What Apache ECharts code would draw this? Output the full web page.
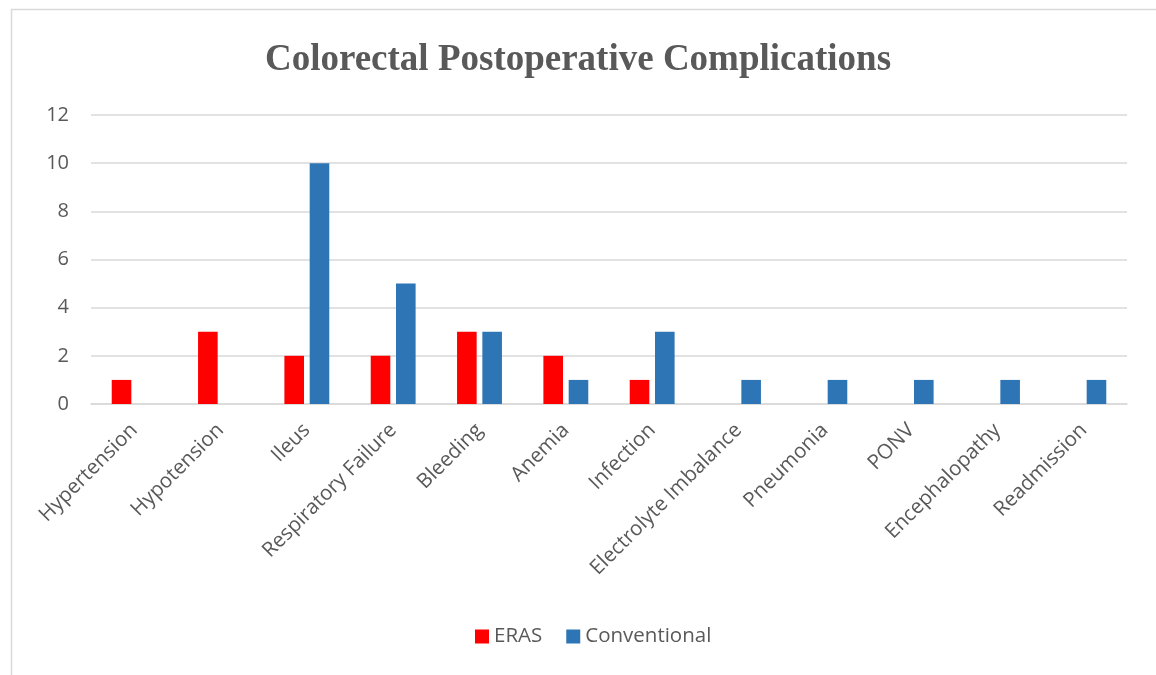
<!DOCTYPE html>
<html>
<head>
<meta charset="utf-8">
<script src="https://cdn.jsdelivr.net/npm/echarts@6/dist/echarts.min.js"></script>
<style>
html,body{margin:0;padding:0;background:#fff;}
#chart{width:1156px;height:675px;}
</style>
</head>
<body>
<div id="chart"></div>
<script>
const categories = ["Hypertension","Hypotension","Ileus","Respiratory Failure","Bleeding","Anemia","Infection","Electrolyte Imbalance","Pneumonia","PONV","Encephalopathy","Readmission"];
const erasValues = [1,3,2,2,3,2,1,0,0,0,0,0];
const conventionalValues = [0,0,10,5,3,1,3,1,1,1,1,1];
const yTicks = {min:0, max:12, interval:2};

const chart = echarts.init(document.getElementById('chart'));
const font = '"Open Sans", "Liberation Sans", sans-serif';
chart.setOption({
  animation:false,
  backgroundColor:'#ffffff',
  graphic:[{
    type:'rect', left:9, top:7, silent:true,
    shape:{width:1200, height:720},
    style:{fill:'none', stroke:'#d9d9d9', lineWidth:1.5}
  }],
  title:{
    text:'Colorectal Postoperative Complications',
    left:'center', top:37,
    textStyle:{fontFamily:'"Liberation Serif","Times New Roman",serif', fontWeight:'bold', fontSize:37, color:'#595959'}
  },
  legend:{
    data:['ERAS','Conventional'],
    left:470, top:621,
    itemWidth:14, itemHeight:14, itemGap:24,
    icon:'rect',
    textStyle:{fontFamily:font, fontSize:20.5, color:'#595959'}
  },
  grid:{left:91, right:29, top:115, bottom:271, containLabel:false},
  xAxis:{
    type:'category', data:categories,
    axisLine:{show:true, lineStyle:{color:'#d9d9d9', width:1.5}},
    axisTick:{show:false},
    axisLabel:{rotate:45, interval:0, margin:23, fontFamily:font, fontSize:20.5, color:'#595959'}
  },
  yAxis:{
    type:'value', min:yTicks.min, max:yTicks.max, interval:yTicks.interval,
    axisLine:{show:false}, axisTick:{show:false},
    splitLine:{lineStyle:{color:'#d9d9d9', width:1.5}},
    axisLabel:{margin:22, fontFamily:font, fontSize:20, color:'#595959'}
  },
  series:[
    {name:'ERAS', type:'bar', data:erasValues, barGap:'29%', barCategoryGap:'48%', itemStyle:{color:'#ff0000'}},
    {name:'Conventional', type:'bar', data:conventionalValues, barGap:'29%', barCategoryGap:'48%', itemStyle:{color:'#2e75b6'}}
  ]
});
</script>
</body>
</html>
